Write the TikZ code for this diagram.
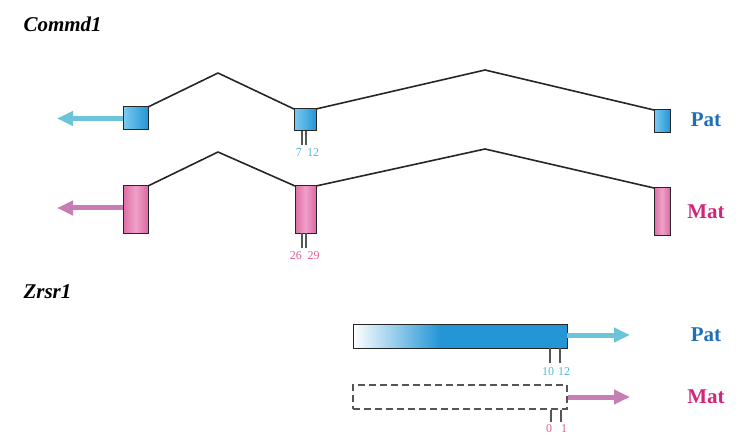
\documentclass[tikz,border=0pt]{standalone}
\usepackage{fontspec}
\setmainfont{Liberation Serif}
\usetikzlibrary{arrows.meta,calc}
\definecolor{exblueL}{HTML}{7CCBF0}
\definecolor{exblueR}{HTML}{2496D6}
\definecolor{expinkL}{HTML}{DC6EA5}
\definecolor{expinkM}{HTML}{EFA0C8}
\definecolor{expinkR}{HTML}{DA6AA2}
\definecolor{arrcyan}{HTML}{6CC4D8}
\definecolor{arrpink}{HTML}{C97DB5}
\definecolor{patblue}{HTML}{1E6FB5}
\definecolor{matpink}{HTML}{D1267A}
\definecolor{numblue}{HTML}{5AB4E0}
\definecolor{numpink}{HTML}{E0609A}
\definecolor{tickgray}{HTML}{555555}
\tikzset{
  exon/.style={draw=black!85, line width=1pt, inner sep=0pt, outer sep=0pt},
  bluex/.style={exon, left color=exblueL, right color=exblueR},
  pinkx/.style={exon, left color=expinkL, right color=expinkR, middle color=expinkM},
  intron/.style={draw=black!85, line width=1.6pt, line join=round},
  tss/.style={line width=5pt, -{Triangle[length=16pt,width=14pt]}},
  tick/.style={draw=tickgray, line width=1.3pt},
  gene/.style={font=\fontsize{21}{24}\selectfont\bfseries\itshape, anchor=west},
  allele/.style={font=\fontsize{21}{24}\selectfont\bfseries},
  num/.style={font=\fontsize{12}{13}\selectfont, inner sep=0pt, anchor=north}
}
\begin{document}
\begin{tikzpicture}[x=1pt,y=-1pt]
\useasboundingbox (0,0) rectangle (743,438);
\fill[white] (0,0) rectangle (743,438);

% gene names
\node[gene] (g1) at (20,24) {Commd1};
\node[gene] (g2) at (20,292) {Zrsr1};

% Commd1 Pat exons
\node[bluex, minimum width=25pt, minimum height=23pt] (p1) at (135.5,118.5) {};
\node[bluex, minimum width=22pt, minimum height=22pt] (p2) at (305,120) {};
\node[bluex, minimum width=16pt, minimum height=23pt] (p3) at (662,121.5) {};
\coordinate (pk1) at (218,73);
\coordinate (pk2) at (485,70);
\draw[intron] (p1.north east) -- (pk1) -- (p2.north west);
\draw[intron] (p2.north east) -- (pk2) -- (p3.north west);
\coordinate (pt1) at (57,118.5);
\draw[tss, arrcyan] (p1.west) -- (pt1);
\coordinate (pa) at ($(p2.south)+(-3,14)$);
\coordinate (pb) at ($(p2.south)+(1,14)$);
\draw[tick] ($(p2.south)+(-3,0)$) -- (pa);
\draw[tick] ($(p2.south)+(1,0)$) -- (pb);
\node[num, text=numblue, anchor=north east] (n7) at ($(pa)+(0,3)$) {7};
\node[num, text=numblue, anchor=north west] (n12) at ($(pb)+(1,3)$) {12};
\node[allele, text=patblue] (lp1) at (706,120) {Pat};

% Commd1 Mat exons
\node[pinkx, minimum width=25pt, minimum height=47pt] (m1) at (135.5,209.5) {};
\node[pinkx, minimum width=21pt, minimum height=47pt] (m2) at (305.5,209.5) {};
\node[pinkx, minimum width=16pt, minimum height=47pt] (m3) at (662,211.5) {};
\coordinate (mk1) at (218,152);
\coordinate (mk2) at (485,149);
\draw[intron] (m1.north east) -- (mk1) -- (m2.north west);
\draw[intron] (m2.north east) -- (mk2) -- (m3.north west);
\coordinate (mt1) at (57,208);
\draw[tss, arrpink] (m1.west |- mt1) -- (mt1);
\coordinate (ma) at ($(m2.south)+(-3.5,15)$);
\coordinate (mb) at ($(m2.south)+(0.5,15)$);
\draw[tick] ($(m2.south)+(-3.5,0)$) -- (ma);
\draw[tick] ($(m2.south)+(0.5,0)$) -- (mb);
\node[num, text=numpink, anchor=north east] (n26) at ($(ma)+(0,3)$) {26};
\node[num, text=numpink, anchor=north west] (n29) at ($(mb)+(1.5,3)$) {29};
\node[allele, text=matpink] (lm1) at (706,212) {Mat};

% Zrsr1 Pat
\fill[exblueR] (353,324) rectangle (567,348);
\shade[left color=white, right color=exblueR] (353,324) rectangle (440,348);
\node[exon, minimum width=214pt, minimum height=24pt] (zp) at (460,336) {};
\coordinate (zpt) at (630,335);
\draw[tss, arrcyan] (zp.east |- zpt) -- (zpt);
\coordinate (za) at (550,363);
\coordinate (zb) at (560,363);
\draw[tick] (zp.south -| za) -- (za);
\draw[tick] (zp.south -| zb) -- (zb);
\node[num, text=numblue] (n10) at ($(za)+(-2,4)$) {10};
\node[num, text=numblue] (n12b) at ($(zb)+(4,4)$) {12};
\node[allele, text=patblue] (lp2) at (706,335) {Pat};

% Zrsr1 Mat
\node[draw=tickgray, dash pattern=on 7pt off 4pt, line width=1.3pt, inner sep=0pt, minimum width=214pt, minimum height=24pt] (zm) at (460,397) {};
\coordinate (zmt) at (630,397);
\draw[tss, arrpink] (zm.east |- zmt) -- (zmt);
\coordinate (zc) at (551,422);
\coordinate (zd) at (561,422);
\draw[tick] (zm.south -| zc) -- (zc);
\draw[tick] (zm.south -| zd) -- (zd);
\node[num, text=numpink] (n0) at ($(zc)+(-2,2)$) {0};
\node[num, text=numpink] (n1) at ($(zd)+(3,2)$) {1};
\node[allele, text=matpink] (lm2) at (706,397) {Mat};
\end{tikzpicture}
\end{document}
